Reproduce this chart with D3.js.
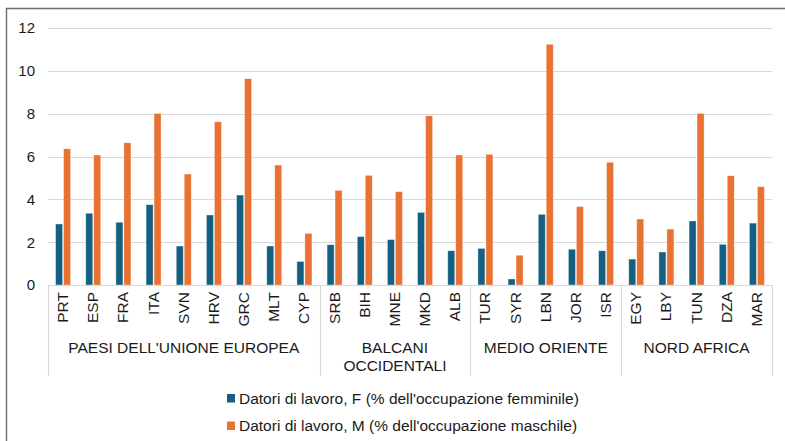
<!DOCTYPE html>
<html><head><meta charset="utf-8">
<script src="https://cdn.jsdelivr.net/npm/d3@7"></script>
<style>body{margin:0;background:#fff;}svg{display:block;font-family:"Liberation Sans",Arial,sans-serif;}</style>
</head><body>
<script>
const categories = ["PRT","ESP","FRA","ITA","SVN","HRV","GRC","MLT","CYP","SRB","BIH","MNE","MKD","ALB","TUR","SYR","LBN","JOR","ISR","EGY","LBY","TUN","DZA","MAR"];
const groups = [
  {name:["PAESI DELL'UNIONE EUROPEA"], from:"PRT", to:"CYP"},
  {name:["BALCANI","OCCIDENTALI"], from:"SRB", to:"ALB"},
  {name:["MEDIO ORIENTE"], from:"TUR", to:"ISR"},
  {name:["NORD AFRICA"], from:"EGY", to:"MAR"}
];
const femaleValues = [2.85,3.35,2.93,3.75,1.82,3.27,4.2,1.82,1.1,1.88,2.26,2.12,3.39,1.6,1.71,0.28,3.3,1.67,1.6,1.21,1.54,2.99,1.9,2.89];
const maleValues = [6.36,6.07,6.64,8.01,5.18,7.62,9.63,5.6,2.41,4.42,5.12,4.36,7.9,6.07,6.1,1.39,11.24,3.66,5.73,3.08,2.61,8.01,5.1,4.59];
const yTicks = [0,2,4,6,8,10,12];
const seriesNames = ["Datori di lavoro, F (% dell'occupazione femminile)","Datori di lavoro, M (% dell'occupazione maschile)"];
const colors = ["#156082","#E97132"];

const W=785,H=441;
const svg=d3.select("body").append("svg").attr("width",W).attr("height",H);
// frame
svg.append("path").attr("d","M6.5,"+(H+2)+"V8.5H"+(W+2)).attr("fill","none").attr("stroke","#6e6e6e").attr("stroke-width",1.4);

const x=d3.scaleBand().domain(categories).range([48,772]);
const y=d3.scaleLinear().domain([0,12]).range([285,28]);
const x1=d3.scaleBand().domain([0,1]).range([0,x.bandwidth()]).paddingInner(0.12).paddingOuter(0.95);

// gridlines
svg.append("g").selectAll("line").data(yTicks.filter(d=>d>0)).join("line")
  .attr("x1",48).attr("x2",772).attr("y1",d=>Math.round(y(d))+0.5).attr("y2",d=>Math.round(y(d))+0.5)
  .attr("stroke","#d9d9d9").attr("stroke-width",1.2);

// y tick labels
svg.append("g").selectAll("text").data(yTicks).join("text")
  .attr("x",35).attr("y",d=>y(d)).attr("dy","0.36em").attr("text-anchor","end")
  .attr("font-size","15px").attr("fill","#1a1a1a").text(d=>d);

// bars
const series=[femaleValues,maleValues];
series.forEach((vals,si)=>{
  svg.append("g").selectAll("rect").data(vals).join("rect")
    .attr("x",(d,i)=>x(categories[i])+x1(si))
    .attr("width",x1.bandwidth())
    .attr("y",d=>y(d)).attr("height",d=>y(0)-y(d))
    .attr("fill",colors[si]).attr("stroke","#fff").attr("stroke-opacity",0.5).attr("stroke-width",0.7);
});

// x axis line
svg.append("line").attr("x1",48).attr("x2",773).attr("y1",285.5).attr("y2",285.5).attr("stroke","#d9d9d9").attr("stroke-width",1.2);

// category labels
svg.append("g").selectAll("text").data(categories).join("text")
  .attr("transform",d=>`translate(${x(d)+x.bandwidth()/2+5},292) rotate(-90)`)
  .attr("text-anchor","end").attr("font-size","15.5px").attr("fill","#1a1a1a").text(d=>d);

// group separators and labels
const seps=[48];
groups.forEach(g=>seps.push(x(g.to)+x.bandwidth()));
svg.append("g").selectAll("line").data(seps).join("line")
  .attr("x1",d=>Math.round(d)+0.5).attr("x2",d=>Math.round(d)+0.5).attr("y1",285).attr("y2",376)
  .attr("stroke","#d9d9d9").attr("stroke-width",1.2);
groups.forEach(g=>{
  const cx=(x(g.from)+x(g.to)+x.bandwidth())/2;
  const t=svg.append("text").attr("x",cx).attr("y",353).attr("text-anchor","middle").attr("font-size","15.5px").attr("fill","#1a1a1a");
  g.name.forEach((ln,i)=>t.append("tspan").attr("x",cx).attr("dy",i?18:0).text(ln));
});

// legend
seriesNames.forEach((n,i)=>{
  const ly=394+i*27.5;
  svg.append("rect").attr("x",227).attr("y",ly).attr("width",8).attr("height",8.5).attr("fill",colors[i]);
  svg.append("text").attr("x",239).attr("y",ly+9.5).attr("font-size","15.5px").attr("fill","#1a1a1a").text(n);
});
</script>
</body></html>
